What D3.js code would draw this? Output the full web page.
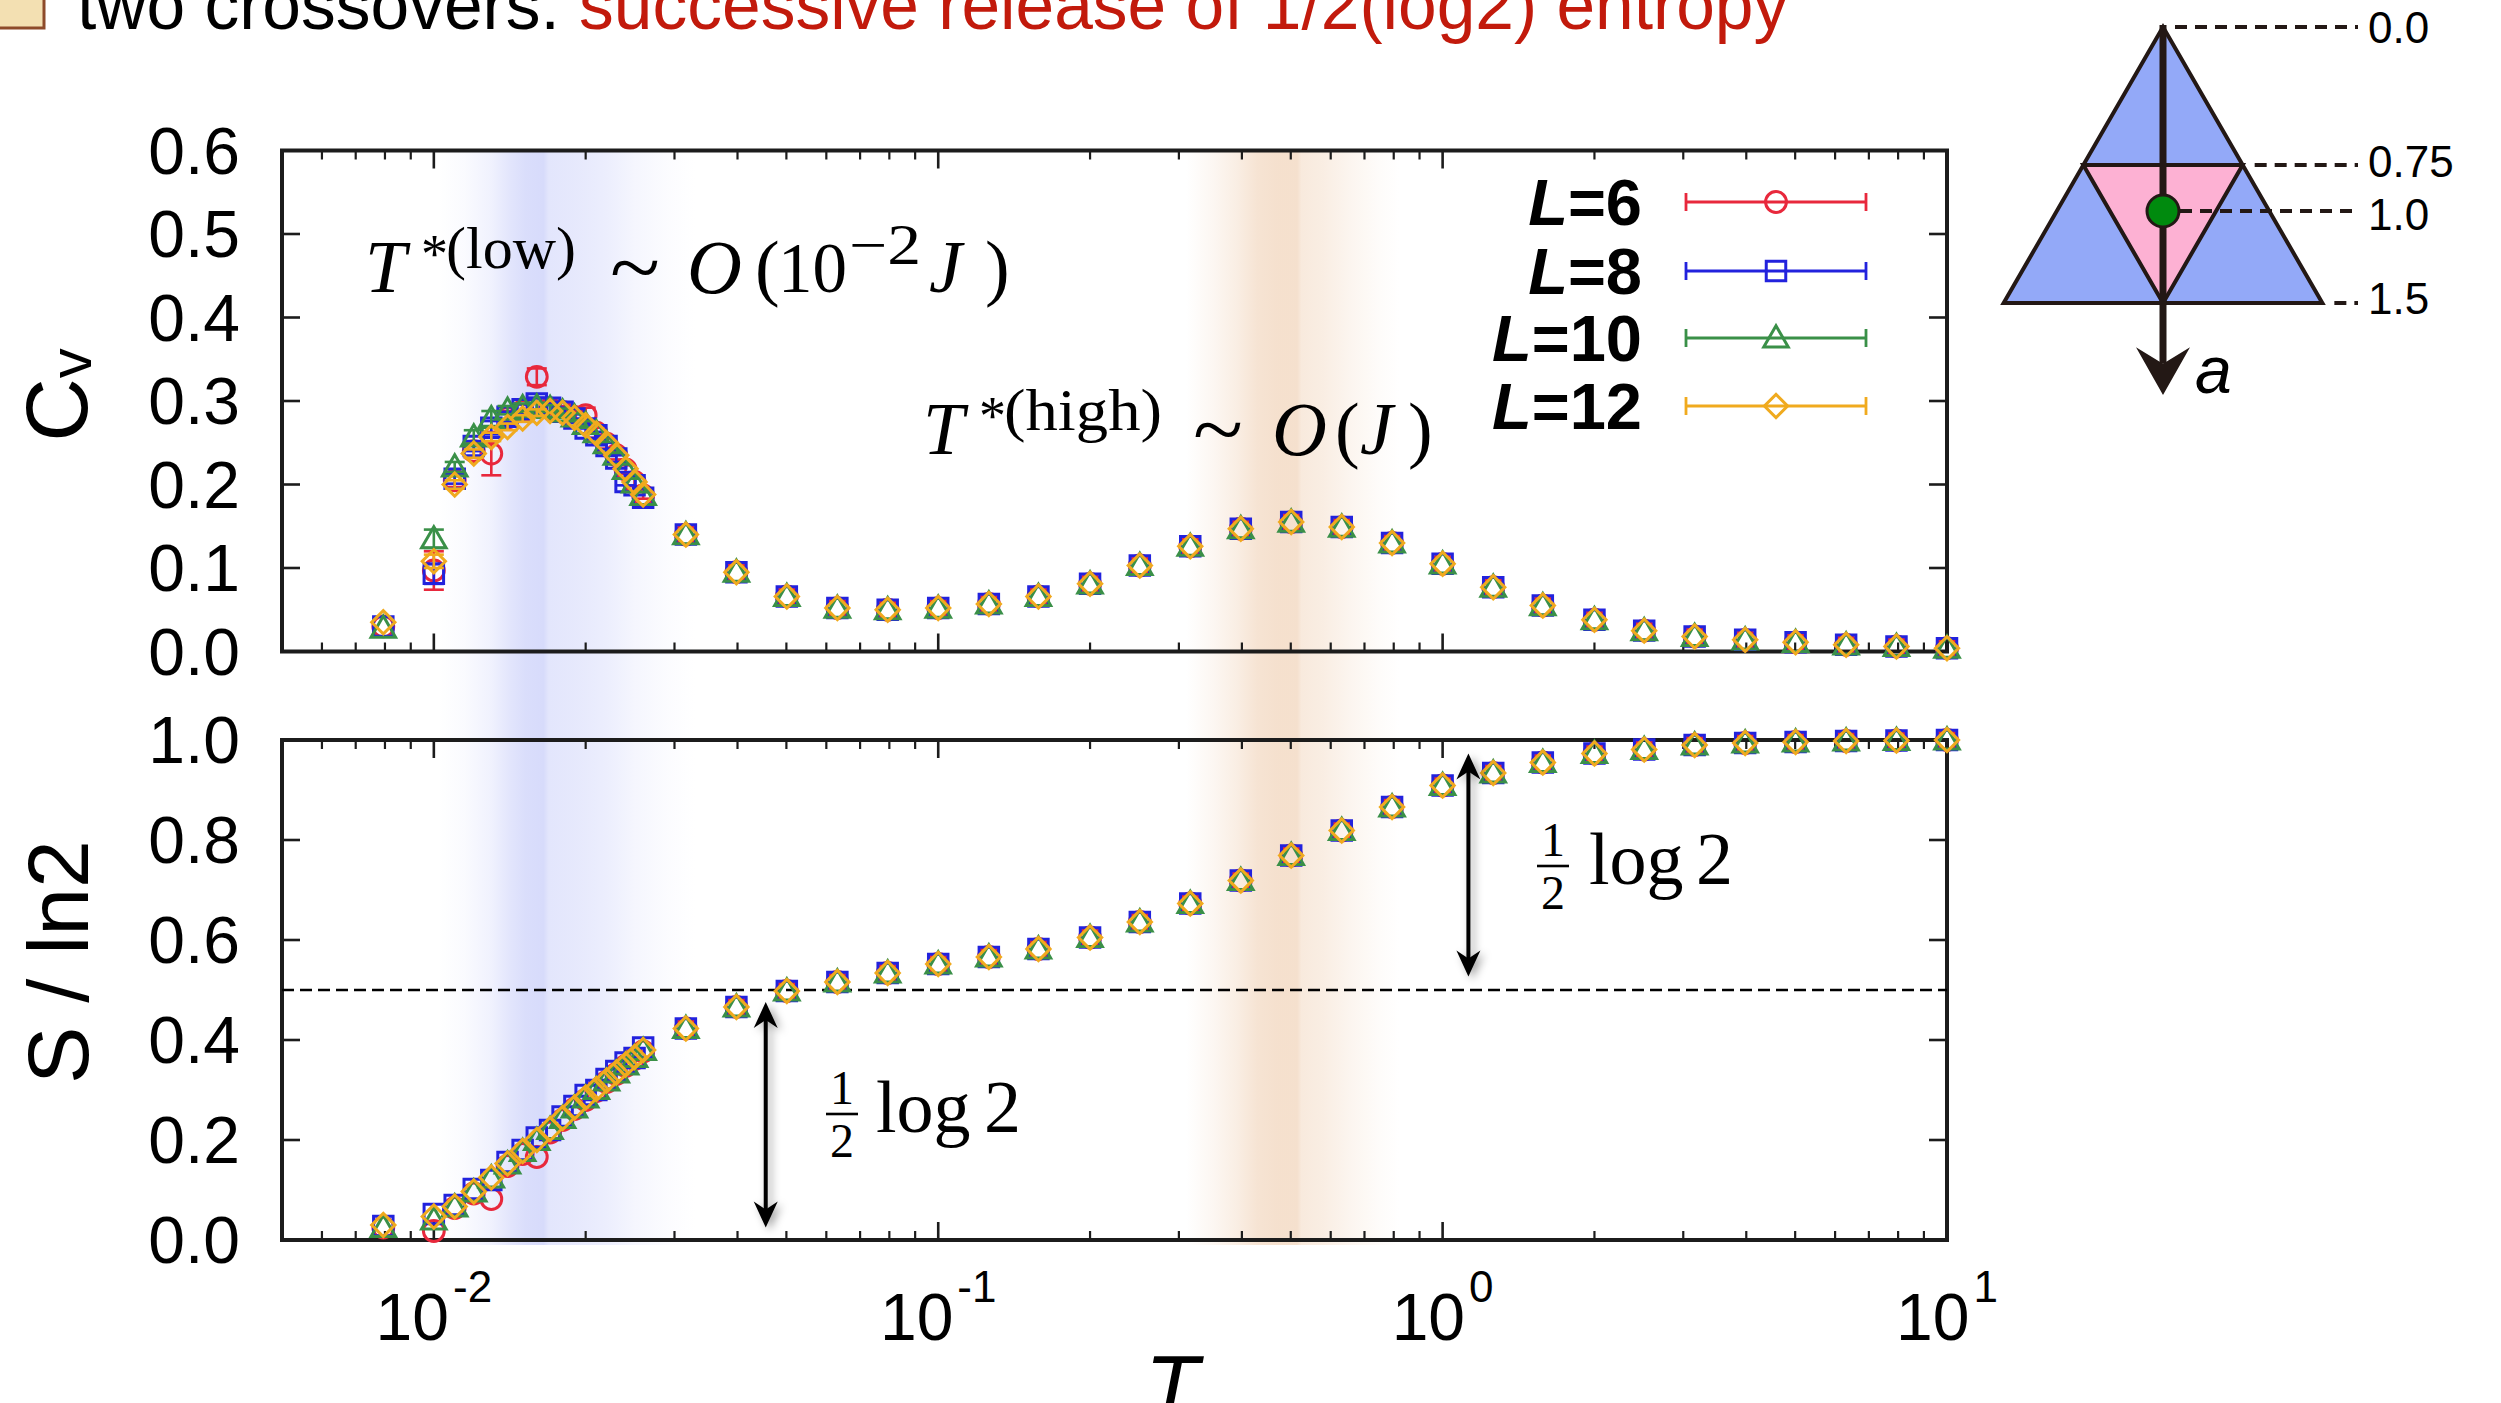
<!DOCTYPE html>
<html><head><meta charset="utf-8">
<script src="https://cdn.jsdelivr.net/npm/d3@7"></script>
<style>
html,body{margin:0;padding:0;background:#fff;overflow:hidden;}
svg{display:block;}
</style></head><body>
<svg id="chart" width="2501" height="1403"></svg>
<script>
// ---------------- DATA ----------------
const seriesNames = ["6", "8", "10", "12"];
const seriesColors = ["#e8283c", "#2222dd", "#3a9048", "#f0aa1e"];
const seriesMarkers = ["circle", "square", "triangle", "diamond"];

const T_low = [0.00794, 0.010, 0.011, 0.012, 0.013, 0.014, 0.015, 0.016, 0.017, 0.018, 0.019, 0.020, 0.021, 0.022, 0.023, 0.024, 0.025, 0.026];
const T_high = [0.0316, 0.0398, 0.0501, 0.0631, 0.0794, 0.1, 0.126, 0.158, 0.2, 0.251, 0.316, 0.398, 0.501, 0.631, 0.794, 1.0, 1.26, 1.58, 2.0, 2.51, 3.16, 3.98, 5.01, 6.31, 7.94, 10.0];

const cv_L6_low  = [0.030, 0.097, 0.205, 0.240, 0.237, 0.280, 0.288, 0.329, 0.291, 0.287, 0.281, 0.283, 0.262, 0.249, 0.235, 0.218, 0.203, 0.187];
const cv_L8_low  = [0.030, 0.093, 0.207, 0.246, 0.268, 0.281, 0.290, 0.297, 0.292, 0.287, 0.279, 0.267, 0.259, 0.246, 0.231, 0.203, 0.199, 0.184];
const cv_L10_low = [0.028, 0.135, 0.221, 0.257, 0.279, 0.289, 0.292, 0.293, 0.291, 0.287, 0.281, 0.272, 0.262, 0.249, 0.235, 0.218, 0.202, 0.187];
const cv_L12_low = [0.035, 0.108, 0.200, 0.237, 0.257, 0.269, 0.279, 0.286, 0.288, 0.286, 0.280, 0.271, 0.261, 0.249, 0.235, 0.219, 0.203, 0.188];

const cvErr_L6_low  = [0.002, 0.023, 0.008, 0.008, 0.026, 0.008, 0.008, 0.010, 0.007, 0.007, 0.007, 0.009, 0.006, 0.006, 0.005, 0.005, 0.005, 0.004];
const cvErr_L8_low  = [0.002, 0.012, 0.006, 0.006, 0.008, 0.006, 0.006, 0.007, 0.005, 0.005, 0.005, 0.006, 0.004, 0.004, 0.004, 0.004, 0.003, 0.003];
const cvErr_L10_low = [0.002, 0.011, 0.006, 0.008, 0.009, 0.005, 0.005, 0.005, 0.004, 0.004, 0.004, 0.004, 0.003, 0.003, 0.003, 0.003, 0.003, 0.003];
const cvErr_L12_low = [0.002, 0.008, 0.005, 0.005, 0.005, 0.004, 0.004, 0.004, 0.003, 0.003, 0.003, 0.003, 0.003, 0.003, 0.002, 0.002, 0.002, 0.002];

const s_L6_low  = [0.025, 0.018, 0.064, 0.093, 0.082, 0.148, 0.172, 0.166, 0.215, 0.240, 0.262, 0.280, 0.298, 0.316, 0.332, 0.348, 0.362, 0.377];
const s_L8_low  = [0.028, 0.052, 0.070, 0.102, 0.120, 0.156, 0.180, 0.205, 0.220, 0.247, 0.268, 0.290, 0.300, 0.322, 0.338, 0.355, 0.364, 0.385];
const s_L10_low = [0.025, 0.040, 0.066, 0.096, 0.124, 0.152, 0.177, 0.199, 0.221, 0.243, 0.264, 0.284, 0.301, 0.318, 0.334, 0.350, 0.365, 0.379];
const s_L12_low = [0.030, 0.047, 0.067, 0.097, 0.125, 0.153, 0.178, 0.200, 0.222, 0.244, 0.265, 0.285, 0.302, 0.319, 0.335, 0.351, 0.366, 0.380];

const cv_high = [0.140, 0.095, 0.066, 0.052, 0.050, 0.052, 0.057, 0.066, 0.081, 0.103, 0.126, 0.147, 0.155, 0.149, 0.130, 0.105, 0.077, 0.055, 0.038, 0.025, 0.018, 0.014, 0.011, 0.008, 0.006, 0.004];
const s_high  = [0.423, 0.466, 0.498, 0.516, 0.534, 0.552, 0.566, 0.582, 0.605, 0.636, 0.673, 0.719, 0.769, 0.819, 0.866, 0.909, 0.934, 0.955, 0.973, 0.981, 0.990, 0.994, 0.996, 0.998, 0.999, 1.000];

const xTickValues = [0.01, 0.1, 1, 10];
const xTickExponents = ["-2", "-1", "0", "1"];
const cvTicks = [0, 0.1, 0.2, 0.3, 0.4, 0.5, 0.6];
const cvTickLabels = ["0.0", "0.1", "0.2", "0.3", "0.4", "0.5", "0.6"];
const sTicks = [0, 0.2, 0.4, 0.6, 0.8, 1.0];
const sTickLabels = ["0.0", "0.2", "0.4", "0.6", "0.8", "1.0"];
const sReference = 0.5;

// crossover bands: [T, opacity]
const blueBand = [[0.0102, 0], [0.0115, 0.1], [0.013, 0.3], [0.0142, 0.58], [0.0152, 0.74], [0.0165, 0.8], [0.0169, 0.56], [0.019, 0.5], [0.022, 0.38], [0.025, 0.2], [0.029, 0.07], [0.033, 0]];
const orangeBand = [[0.31, 0], [0.35, 0.15], [0.39, 0.32], [0.43, 0.52], [0.47, 0.58], [0.515, 0.58], [0.525, 0.4], [0.58, 0.33], [0.66, 0.18], [0.74, 0.07], [0.82, 0]];

// entropy-release arrows: T position, S from, S to
const arrowT = [0.0455, 1.125];
const arrowFrom = [0.025, 0.527];
const arrowTo = [0.476, 0.973];

// inset levels
const alphaLevels = [0.0, 0.75, 1.0, 1.5];
const alphaLabels = ["0.0", "0.75", "1.0", "1.5"];

// ---------------- DRAW ----------------
const svg = d3.select("#chart");
const defs = svg.append("defs");
const SANS = "'Liberation Sans', Arial, Helvetica, sans-serif";
const SERIF = "'Liberation Serif', 'Times New Roman', serif";
const INK = "#1c1c1c";

const x = d3.scaleLog().domain([0.005, 10]).range([282, 1947]);
const yCv = d3.scaleLinear().domain([0, 0.6]).range([651.5, 150.5]);
const yS = d3.scaleLinear().domain([0, 1]).range([1240, 740]);

// shadow filter
const f = defs.append("filter").attr("id", "shadow").attr("x", "-200%").attr("y", "-10%").attr("width", "500%").attr("height", "120%");
f.append("feDropShadow").attr("dx", 4).attr("dy", 3).attr("stdDeviation", 4).attr("flood-color", "#000").attr("flood-opacity", 0.35);

// bands
function band(id, stops, color) {
  const x0 = x(stops[0][0]), x1 = x(stops[stops.length - 1][0]);
  const g = defs.append("linearGradient").attr("id", id).attr("gradientUnits", "userSpaceOnUse")
    .attr("x1", x0).attr("x2", x1).attr("y1", 0).attr("y2", 0);
  stops.forEach(s => g.append("stop").attr("offset", (x(s[0]) - x0) / (x1 - x0)).attr("stop-color", color).attr("stop-opacity", s[1]));
  svg.append("rect").attr("x", x0).attr("width", x1 - x0).attr("y", yCv(0.6)).attr("height", yS(0) + 5 - yCv(0.6)).attr("fill", `url(#${id})`);
}
band("gBlue", blueBand, "rgb(205,210,250)");
band("gOrange", orangeBand, "rgb(238,202,170)");

// panels frames & ticks
function panel(y, ticks, labels) {
  const g = svg.append("g");
  const [yb, yt] = y.range();
  const [xl, xr] = x.range();
  const minors = [];
  for (let e = -3; e <= 0; e++) for (let m = 2; m <= 9; m++) {
    const v = m * Math.pow(10, e);
    if (v > 0.005 && v < 10) minors.push(v);
  }
  minors.forEach(v => {
    g.append("line").attr("x1", x(v)).attr("x2", x(v)).attr("y1", yb).attr("y2", yb - 9).attr("stroke", INK).attr("stroke-width", 2.2);
    g.append("line").attr("x1", x(v)).attr("x2", x(v)).attr("y1", yt).attr("y2", yt + 9).attr("stroke", INK).attr("stroke-width", 2.2);
  });
  xTickValues.forEach(v => {
    g.append("line").attr("x1", x(v)).attr("x2", x(v)).attr("y1", yb).attr("y2", yb - 18).attr("stroke", INK).attr("stroke-width", 2.6);
    g.append("line").attr("x1", x(v)).attr("x2", x(v)).attr("y1", yt).attr("y2", yt + 18).attr("stroke", INK).attr("stroke-width", 2.6);
  });
  ticks.forEach((v, i) => {
    g.append("line").attr("x1", xl).attr("x2", xl + 18).attr("y1", y(v)).attr("y2", y(v)).attr("stroke", INK).attr("stroke-width", 2.6);
    g.append("line").attr("x1", xr).attr("x2", xr - 18).attr("y1", y(v)).attr("y2", y(v)).attr("stroke", INK).attr("stroke-width", 2.6);
    g.append("text").attr("x", 240).attr("y", y(v) + 23).attr("text-anchor", "end")
      .attr("font-family", SANS).attr("font-size", 66).attr("fill", "#000").text(labels[i]);
  });
  g.append("rect").attr("x", xl).attr("y", yt).attr("width", xr - xl).attr("height", yb - yt)
    .attr("fill", "none").attr("stroke", INK).attr("stroke-width", 4);
}
panel(yCv, cvTicks, cvTickLabels);
panel(yS, sTicks, sTickLabels);

// x tick labels
xTickValues.forEach((v, i) => {
  const t = svg.append("text").attr("x", x(v)).attr("y", 1340).attr("text-anchor", "middle")
    .attr("font-family", SANS).attr("fill", "#000");
  t.append("tspan").attr("font-size", 66).text("10");
  t.append("tspan").attr("font-size", 44).attr("dx", 4).attr("dy", -38).text(xTickExponents[i]);
});

// reference dashed line
svg.append("line").attr("x1", x.range()[0]).attr("x2", x.range()[1]).attr("y1", yS(sReference)).attr("y2", yS(sReference))
  .attr("stroke", "#000").attr("stroke-width", 2.4).attr("stroke-dasharray", "12,6");

// markers
function markerPath(type) {
  if (type === "circle") return d3.symbol(d3.symbolCircle, 340)();
  if (type === "square") return d3.symbol(d3.symbolSquare, 380)();
  if (type === "triangle") return d3.symbol(d3.symbolTriangle, 260)();
  return d3.symbol(d3.symbolSquare, 270)();
}
function drawMarker(g, type, cx, cy, color) {
  g.append("path").attr("d", markerPath(type))
    .attr("transform", `translate(${cx},${cy})` + (type === "diamond" ? " rotate(45)" : "") + (type === "triangle" ? " translate(0,2)" : ""))
    .attr("fill", "none").attr("stroke", color).attr("stroke-width", 3);
}

const cvLow = [cv_L6_low, cv_L8_low, cv_L10_low, cv_L12_low];
const cvErrLow = [cvErr_L6_low, cvErr_L8_low, cvErr_L10_low, cvErr_L12_low];
const sLow = [s_L6_low, s_L8_low, s_L10_low, s_L12_low];
const T_all = T_low.concat(T_high);

seriesNames.forEach((name, si) => {
  const g = svg.append("g");
  const col = seriesColors[si];
  const cv = cvLow[si].concat(cv_high);
  const err = cvErrLow[si].concat(T_high.map(() => 0));
  const s = sLow[si].concat(s_high);
  T_all.forEach((t, i) => {
    const cx = x(t);
    if (err[i] > 0.003) {
      const y1 = yCv(cv[i] - err[i]), y2 = yCv(cv[i] + err[i]);
      g.append("line").attr("x1", cx).attr("x2", cx).attr("y1", y1).attr("y2", y2).attr("stroke", col).attr("stroke-width", 2.6);
      g.append("line").attr("x1", cx - 10).attr("x2", cx + 10).attr("y1", y1).attr("y2", y1).attr("stroke", col).attr("stroke-width", 2.6);
      g.append("line").attr("x1", cx - 10).attr("x2", cx + 10).attr("y1", y2).attr("y2", y2).attr("stroke", col).attr("stroke-width", 2.6);
    }
    drawMarker(g, seriesMarkers[si], cx, yCv(cv[i]), col);
    drawMarker(g, seriesMarkers[si], cx, yS(s[i]), col);
  });
});

// legend
const legendRowY = [202, 271, 338, 406];
seriesNames.forEach((name, si) => {
  const ly = legendRowY[si], col = seriesColors[si];
  const t = svg.append("text").attr("x", 1642).attr("y", ly + 23).attr("text-anchor", "end")
    .attr("font-family", SANS).attr("font-size", 65).attr("font-weight", "bold").attr("fill", "#000");
  t.append("tspan").attr("font-style", "italic").text("L");
  t.append("tspan").text("=" + name);
  svg.append("line").attr("x1", 1686).attr("x2", 1866).attr("y1", ly).attr("y2", ly).attr("stroke", col).attr("stroke-width", 2.8);
  [1686, 1866].forEach(ex => svg.append("line").attr("x1", ex).attr("x2", ex).attr("y1", ly - 9).attr("y2", ly + 9).attr("stroke", col).attr("stroke-width", 2.8));
  drawMarker(svg, seriesMarkers[si], 1776, ly, col);
});

// annotations (math)
function richText(segs) {
  const t = svg.append("text").attr("font-family", SERIF).attr("fill", "#000");
  segs.forEach(s => {
    const sp = t.append("tspan").attr("x", s.x).attr("y", s.y).attr("font-size", s.size).text(s.t);
    if (s.it) sp.attr("font-style", "italic");
    if (s.w) sp.attr("textLength", s.w).attr("lengthAdjust", "spacingAndGlyphs");
  });
  return t;
}
richText([
  {t: "T", x: 365, y: 292, size: 74, it: true},
  {t: "*", x: 421, y: 272, size: 54},
  {t: "(low)", x: 446, y: 268, size: 60, w: 130},
  {t: "~", x: 610, y: 296, size: 84, w: 50},
  {t: "O", x: 687, y: 293, size: 76, it: true},
  {t: "(", x: 755, y: 292, size: 74},
  {t: "10", x: 778, y: 292, size: 72, w: 69},
  {t: "−2", x: 849, y: 264, size: 56, w: 72},
  {t: "J", x: 929, y: 292, size: 74, it: true},
  {t: ")", x: 985, y: 292, size: 74}
]);
richText([
  {t: "T", x: 923, y: 454, size: 74, it: true},
  {t: "*", x: 979, y: 434, size: 54},
  {t: "(high)", x: 1004, y: 430, size: 60, w: 158},
  {t: "~", x: 1193, y: 458, size: 84, w: 50},
  {t: "O", x: 1272, y: 455, size: 76, it: true},
  {t: "(", x: 1335, y: 454, size: 74},
  {t: "J", x: 1360, y: 454, size: 74, it: true},
  {t: ")", x: 1408, y: 454, size: 74}
]);

function halfLog2(fx, logX, twoX, baseY) {
  svg.append("text").attr("x", fx).attr("y", baseY - 28).attr("text-anchor", "middle").attr("font-family", SERIF).attr("font-size", 48).text("1");
  svg.append("line").attr("x1", fx - 16).attr("x2", fx + 16).attr("y1", baseY - 18).attr("y2", baseY - 18).attr("stroke", "#000").attr("stroke-width", 2.6);
  svg.append("text").attr("x", fx).attr("y", baseY + 25).attr("text-anchor", "middle").attr("font-family", SERIF).attr("font-size", 48).text("2");
  const t = svg.append("text").attr("y", baseY).attr("font-family", SERIF).attr("font-size", 74);
  t.append("tspan").attr("x", logX).text("log");
  t.append("tspan").attr("x", twoX).text("2");
}
halfLog2(842, 876, 984, 1132);
halfLog2(1553, 1589, 1696, 884);

// double arrows
arrowT.forEach((t, i) => {
  const ax = x(t), yA = yS(arrowTo[i]), yB = yS(arrowFrom[i]);
  const g = svg.append("g").attr("filter", "url(#shadow)");
  g.append("line").attr("x1", ax).attr("x2", ax).attr("y1", yA + 14).attr("y2", yB - 14).attr("stroke", "#000").attr("stroke-width", 4);
  g.append("path").attr("d", `M${ax},${yA} L${ax - 12},${yA + 26} L${ax},${yA + 18} L${ax + 12},${yA + 26} Z`).attr("fill", "#000");
  g.append("path").attr("d", `M${ax},${yB} L${ax - 12},${yB - 26} L${ax},${yB - 18} L${ax + 12},${yB - 26} Z`).attr("fill", "#000");
});

// axis labels
const cvl = svg.append("text").attr("transform", "translate(87,395) rotate(-90)").attr("text-anchor", "middle")
  .attr("font-family", SANS).attr("fill", "#000");
cvl.append("tspan").attr("font-size", 88).text("C");
cvl.append("tspan").attr("font-size", 60).attr("dy", 4).text("v");
svg.append("text").attr("transform", "translate(88,962) rotate(-90)").attr("text-anchor", "middle")
  .attr("font-family", SANS).attr("font-size", 86).attr("fill", "#000").text("S / ln2");
svg.append("text").attr("x", 1172).attr("y", 1416).attr("text-anchor", "middle").attr("font-family", SANS)
  .attr("font-size", 88).attr("font-style", "italic").attr("fill", "#000").text("T");

// title (cut at top, as in the source slide)
svg.append("rect").attr("x", -10).attr("y", -10).attr("width", 54).attr("height", 38)
  .attr("fill", "#f3e0b2").attr("stroke", "#8d4b2a").attr("stroke-width", 3);
const title = svg.append("text").attr("x", 77).attr("y", 29).attr("font-family", SANS).attr("font-size", 69.5);
title.append("tspan").attr("fill", "#000").text("two crossovers: ");
title.append("tspan").attr("fill", "#c21a0c").text("successive release of 1/2(log2) entropy");

// inset: triangle
const aScale = d3.scaleLinear().domain([0, 1.5]).range([27, 303]);
const cx = 2163;
const halfW = a => (aScale(a) - aScale(0)) / Math.sqrt(3);
const TRI = "#231815";
const labelDy = [16, 12, 19, 11];
const ins = svg.append("g");
ins.append("path").attr("d", `M${cx},${aScale(0)} L${cx + halfW(1.5)},${aScale(1.5)} L${cx - halfW(1.5)},${aScale(1.5)} Z`)
  .attr("fill", "#93a9f8").attr("stroke", TRI).attr("stroke-width", 4).attr("stroke-linejoin", "miter");
ins.append("path").attr("d", `M${cx - halfW(0.75)},${aScale(0.75)} L${cx + halfW(0.75)},${aScale(0.75)} L${cx},${aScale(1.5)} Z`)
  .attr("fill", "#fdb1d3").attr("stroke", TRI).attr("stroke-width", 4);
ins.append("line").attr("x1", cx).attr("x2", cx).attr("y1", aScale(0) - 2).attr("y2", aScale(1.83)).attr("stroke", TRI).attr("stroke-width", 7);
ins.append("path").attr("d", `M${cx},${aScale(2.0)} L${cx - 27},${aScale(1.74)} L${cx},${aScale(1.83)} L${cx + 27},${aScale(1.74)} Z`).attr("fill", TRI);
alphaLevels.forEach((a, i) => {
  const ly = aScale(a);
  const start = a === 1.0 ? cx + 17 : cx + halfW(a) + 12;
  ins.append("line").attr("x1", start).attr("x2", 2358).attr("y1", ly).attr("y2", ly)
    .attr("stroke", TRI).attr("stroke-width", 4).attr("stroke-dasharray", "12,8");
  ins.append("text").attr("x", 2368).attr("y", ly + labelDy[i]).attr("font-family", SANS).attr("font-size", 44).attr("fill", "#000").text(alphaLabels[i]);
});
ins.append("circle").attr("cx", cx).attr("cy", aScale(1.0)).attr("r", 16).attr("fill", "#008a0e").attr("stroke", TRI).attr("stroke-width", 3);
ins.append("text").attr("x", 2195).attr("y", 393).attr("font-family", SANS).attr("font-size", 66).attr("font-style", "italic").attr("fill", "#000").text("a");
</script>
</body></html>
